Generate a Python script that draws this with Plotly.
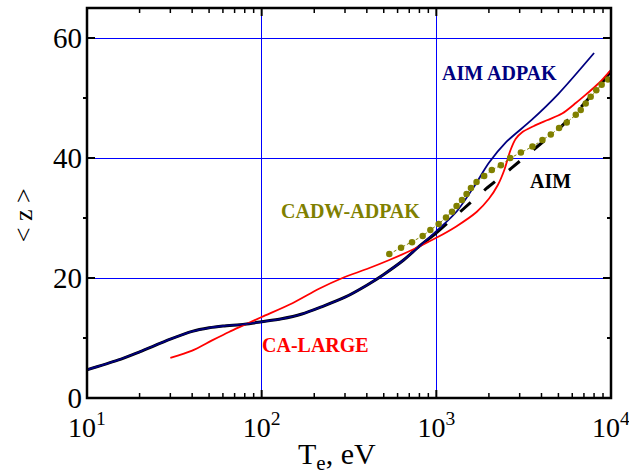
import plotly.graph_objects as go

# ---------------- data ----------------
# AIM ADPAK (navy solid)
aim_adpak_T = [10, 15, 20, 30, 40, 50, 60, 80, 100, 130, 170, 220, 300, 400, 500,
               650, 800, 1000, 1300, 1650, 2000, 2500, 3500, 5000, 8000]
aim_adpak_z = [4.7, 6.3, 7.7, 9.8, 11.1, 11.7, 12.0, 12.3, 12.7, 13.2, 14.0, 15.2,
               16.8, 18.8, 20.6, 23.0, 25.3, 27.8, 31.0, 35.3, 39.2, 42.6, 46.3,
               50.7, 57.5]

# AIM (black dashed)
aim_T = [10, 15, 20, 30, 40, 50, 60, 80, 100, 130, 170, 220, 300, 400, 500, 650,
         800, 1000, 1400, 1950, 2690, 3730, 5170, 6750, 8770, 10000]
aim_z = [4.7, 6.3, 7.7, 9.8, 11.1, 11.7, 12.0, 12.3, 12.7, 13.2, 14.0, 15.2, 16.8,
         18.8, 20.6, 23.0, 25.3, 27.5, 31.2, 35.0, 38.3, 41.8, 45.2, 48.5, 52.3,
         54.5]

# CA-LARGE (red solid)
ca_T = [30, 40, 52, 65, 80, 100, 150, 213, 290, 400, 538, 730, 1000, 1300, 1700,
        2000, 2250, 2450, 2650, 2850, 3100, 3600, 4300, 5250, 6310, 7200, 8540, 10000]
ca_z = [6.7, 7.9, 9.6, 11.0, 12.2, 13.5, 15.8, 18.2, 20.0, 21.5, 23.0, 24.7, 26.7,
        28.6, 31.0, 33.2, 35.5, 38.0, 41.2, 43.2, 44.3, 45.3, 46.3, 47.4, 49.2,
        50.6, 52.5, 54.7]

# CADW-ADPAK (olive dotted with markers)
cadw_T = [538, 628, 726, 835, 924, 1031, 1136, 1230, 1306, 1402, 1490, 1578, 1699,
          1879, 2078, 2342, 2648, 3049, 3550, 4049, 4521, 5043, 5580, 6285, 6710,
          7166, 7651, 8239, 8843, 9617]
cadw_z = [24.0, 25.05, 25.95, 27.0, 28.0, 29.0, 30.1, 31.05, 32.0, 33.0, 34.0, 35.0,
          36.0, 37.0, 38.0, 38.8, 40.0, 40.9, 41.9, 43.0, 43.9, 45.0, 45.9, 47.2,
          48.0, 49.1, 50.2, 51.3, 52.2, 53.1]

x_tickvals = [10, 100, 1000, 10000]
x_ticktext = ["10<sup>1</sup>", "10<sup>2</sup>", "10<sup>3</sup>", "10<sup>4</sup>"]
x_minor_tickvals = [m * d for d in (10, 100, 1000) for m in range(2, 10)]
y_tickvals = [0, 20, 40, 60]
y_ticktext = ["0", "20", "40", "60"]
y_minor_tickvals = [10, 30, 50]

FONT = "Liberation Serif, Times New Roman, serif"
NAVY = "#000080"
RED = "#ff0000"
OLIVE = "#808000"
GRID = "#0000ff"

fig = go.Figure()

split = aim_T.index(1000)
fig.add_trace(go.Scatter(x=aim_T[:split + 1], y=aim_z[:split + 1], mode="lines",
                         line=dict(color="black", width=3, shape="spline", smoothing=0.8),
                         hoverinfo="skip"))
fig.add_trace(go.Scatter(x=aim_T[split:], y=aim_z[split:], mode="lines",
                         line=dict(color="black", width=3, dash="14px,18px"),
                         hoverinfo="skip"))
fig.add_trace(go.Scatter(x=ca_T, y=ca_z, mode="lines",
                         line=dict(color=RED, width=1.8, shape="spline", smoothing=0.8)))
fig.add_trace(go.Scatter(x=aim_adpak_T, y=aim_adpak_z, mode="lines",
                         line=dict(color=NAVY, width=1.8, shape="spline", smoothing=0.8)))
fig.add_trace(go.Scatter(x=cadw_T, y=cadw_z, mode="lines+markers",
                         line=dict(color=OLIVE, width=1, dash="3px,2px"),
                         marker=dict(color=OLIVE, size=6.5)))

labels = [
    ("AIM ADPAK", 3.364, 54.25, NAVY),
    ("AIM", 3.651, 36.1, "black"),
    ("CADW-ADPAK", 2.511, 31.2, OLIVE),
    ("CA-LARGE", 2.311, 8.8, RED),
]
for txt, lx, ly, col in labels:
    fig.add_annotation(x=lx, y=ly, xref="x", yref="y", text="<b>%s</b>" % txt,
                       showarrow=False, font=dict(family=FONT, size=20, color=col))

fig.add_annotation(x=0.478, y=-0.095, xref="paper", yref="paper", xanchor="center",
                   yanchor="top", text="T<sub>e</sub>, eV", showarrow=False,
                   font=dict(family=FONT, size=30, color="black"))
fig.add_annotation(x=-0.122, y=0.469, xref="paper", yref="paper", xanchor="center",
                   yanchor="middle", text="&lt; z &gt;", textangle=-90, showarrow=False,
                   font=dict(family=FONT, size=26, color="black"))

# ---- frame and tick marks (placed through the axis scales) ----
PW, PH = 524.0, 390.0   # plot-area size in px (629-87-18, 476-8-78)
tick = dict(color="black", width=2)
mtick = dict(color="black", width=1.5)
fig.add_shape(type="rect", xref="paper", yref="paper", x0=0, x1=1, y0=0, y1=1,
              line=dict(color="black", width=2.5), layer="above")
for t in x_tickvals[1:-1]:
    fig.add_shape(type="line", xref="x", yref="paper", x0=t, x1=t, y0=0, y1=8 / PH,
                  line=tick, layer="above")
    fig.add_shape(type="line", xref="x", yref="paper", x0=t, x1=t, y0=1, y1=1 - 8 / PH,
                  line=tick, layer="above")
for t in x_minor_tickvals:
    fig.add_shape(type="line", xref="x", yref="paper", x0=t, x1=t, y0=0, y1=5 / PH,
                  line=mtick, layer="above")
    fig.add_shape(type="line", xref="x", yref="paper", x0=t, x1=t, y0=1, y1=1 - 5 / PH,
                  line=mtick, layer="above")
for t in y_tickvals[1:]:
    fig.add_shape(type="line", xref="paper", yref="y", x0=0, x1=8 / PW, y0=t, y1=t,
                  line=tick, layer="above")
    fig.add_shape(type="line", xref="paper", yref="y", x0=1, x1=1 - 8 / PW, y0=t, y1=t,
                  line=tick, layer="above")
for t in y_minor_tickvals:
    fig.add_shape(type="line", xref="paper", yref="y", x0=0, x1=-4 / PW, y0=t, y1=t,
                  line=tick, layer="above")
    fig.add_shape(type="line", xref="paper", yref="y", x0=1, x1=1 - 4 / PW, y0=t, y1=t,
                  line=tick, layer="above")

fig.update_layout(
    width=629, height=476,
    margin=dict(l=87, r=18, t=8, b=78, autoexpand=False),
    paper_bgcolor="white", plot_bgcolor="white",
    showlegend=False,
    font=dict(family=FONT, color="black"),
    xaxis=dict(
        type="log", range=[1, 4], automargin=False,
        tickmode="array", tickvals=x_tickvals, ticktext=x_ticktext,
        tickfont=dict(family=FONT, size=28, color="black"),
        ticklabeloverflow="allow", ticklabelstandoff=10,
        ticks="", showline=False,
        showgrid=True, gridcolor=GRID, gridwidth=1,
        zeroline=False,
    ),
    yaxis=dict(
        range=[0, 65], automargin=False,
        tickmode="array", tickvals=y_tickvals, ticktext=y_ticktext,
        tickfont=dict(family=FONT, size=29, color="black"),
        ticklabeloverflow="allow", ticklabelstandoff=4,
        ticks="", showline=False,
        showgrid=True, gridcolor=GRID, gridwidth=1,
        zeroline=False,
    ),
)

fig.write_html("out.html")
